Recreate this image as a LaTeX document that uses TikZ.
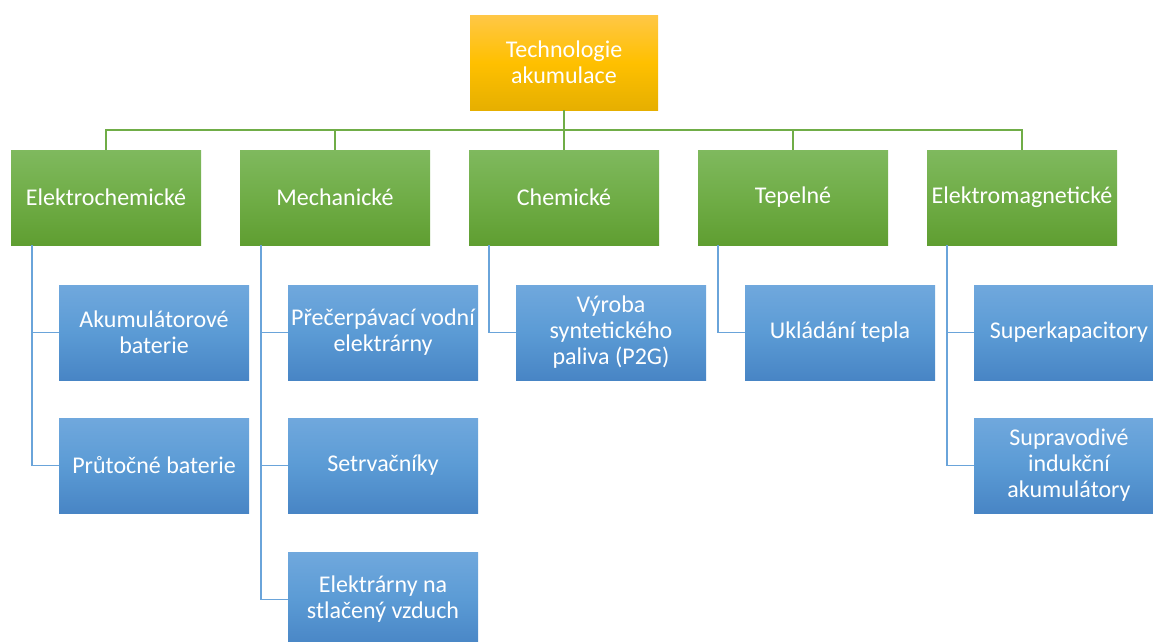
\documentclass[tikz,border=0pt]{standalone}
\usepackage{fontspec}
\setmainfont{Carlito}
\usepackage{tikz}
\usetikzlibrary{positioning}

\definecolor{goldTop}{HTML}{FFC746}
\definecolor{goldMid}{HTML}{FFC000}
\definecolor{goldBot}{HTML}{E6AF00}
\definecolor{greenTop}{HTML}{7FB95E}
\definecolor{greenMid}{HTML}{70AD47}
\definecolor{greenBot}{HTML}{5F9E31}
\definecolor{blueTop}{HTML}{70A8DD}
\definecolor{blueMid}{HTML}{5B9BD5}
\definecolor{blueBot}{HTML}{4885C5}
\definecolor{linkgreen}{HTML}{70AD47}
\definecolor{linkblue}{HTML}{6AA4DA}

\begin{document}
\begin{tikzpicture}[x=1pt,y=-1pt,
  box/.style={rectangle,minimum width=190pt,minimum height=95pt,inner sep=2pt,
    align=center,text=white,font=\fontsize{24}{26}\selectfont},
  root node/.style={box,minimum width=188pt,top color=goldTop,bottom color=goldBot,middle color=goldMid},
  group node/.style={box,top color=greenTop,bottom color=greenBot,middle color=greenMid},
  leaf node/.style={box,top color=blueTop,bottom color=blueBot,middle color=blueMid},
  green link/.style={draw=linkgreen,line width=1.5pt},
  blue link/.style={draw=linkblue,line width=1.5pt}]
  \useasboundingbox (0,0) rectangle (1153,641);
  \clip (0,0) rectangle (1153,641);

  % top
  \node[root node] (root) at (564,62.5) {Technologie\\akumulace};

  % groups
  \node[group node] (g1) at (106,197.5) {Elektrochemické};
  \node[group node] (g2) at (335,197.5) {Mechanické};
  \node[group node] (g3) at (564,197.5) {Chemické};
  \node[group node] (g4) at (793,197.5) {Tepelné};
  \node[group node] (g5) at (1022,197.5) {Elektromagnetické};

  % leaves
  \node[leaf node] (l11) at (154,332.5) {Akumulátorové\\baterie};
  \node[leaf node] (l12) at (154,465.5) {Průtočné baterie};
  \node[leaf node] (l21) at (383,332.5) {Přečerpávací vodní\\elektrárny};
  \node[leaf node] (l22) at (383,465.5) {Setrvačníky};
  \node[leaf node] (l23) at (383,599.5) {Elektrárny na\\stlačený vzduch};
  \node[leaf node] (l31) at (611,332.5) {Výroba\\syntetického\\paliva (P2G)};
  \node[leaf node] (l41) at (840,332.5) {Ukládání tepla};
  \node[leaf node] (l51) at (1069,332.5) {Superkapacitory};
  \node[leaf node] (l52) at (1069,465.5) {Supravodivé\\indukční\\akumulátory};

  % links
  \coordinate (bus) at (564,130);
  \draw[green link] (root.south) -- (bus);
  \draw[green link] (bus) -| (g1.north);
  \draw[green link] (bus) -| (g2.north);
  \draw[green link] (bus) -- (g3.north);
  \draw[green link] (bus) -| (g4.north);
  \draw[green link] (bus) -| (g5.north);

  \draw[blue link] ([xshift=21pt]g1.south west) |- (l11.west);
  \draw[blue link] ([xshift=21pt]g1.south west) |- (l12.west);
  \draw[blue link] ([xshift=21pt]g2.south west) |- (l21.west);
  \draw[blue link] ([xshift=21pt]g2.south west) |- (l22.west);
  \draw[blue link] ([xshift=21pt]g2.south west) |- (l23.west);
  \draw[blue link] ([xshift=20pt]g3.south west) |- (l31.west);
  \draw[blue link] ([xshift=20pt]g4.south west) |- (l41.west);
  \draw[blue link] ([xshift=20pt]g5.south west) |- (l51.west);
  \draw[blue link] ([xshift=20pt]g5.south west) |- (l52.west);
\end{tikzpicture}
\end{document}
